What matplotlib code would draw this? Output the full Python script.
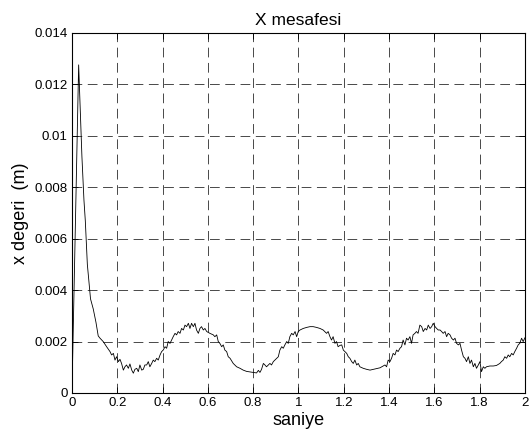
import matplotlib
matplotlib.use("Agg")
import matplotlib.pyplot as plt

plt.rcParams['font.family'] = ['Liberation Sans', 'DejaVu Sans']

# time (s) and x distance (m)
t_rise = [0.0, 0.0296, 0.044, 0.053, 0.059, 0.068, 0.082, 0.094, 0.106, 0.116]
x_rise = [0.0, 0.01276, 0.0092, 0.0075, 0.0067, 0.0050, 0.00366, 0.00327, 0.00275, 0.00222]

t_seg1 = [0.124, 0.138, 0.153, 0.168, 0.175, 0.183, 0.190, 0.197, 0.205, 0.212, 0.219, 0.227,
          0.234, 0.241, 0.249, 0.256, 0.264, 0.271, 0.278, 0.286, 0.293, 0.300, 0.308, 0.315,
          0.322, 0.330, 0.337, 0.344, 0.352, 0.359, 0.366, 0.374, 0.381, 0.389, 0.396, 0.403,
          0.411, 0.418, 0.425, 0.433, 0.440, 0.447, 0.455, 0.462, 0.469]
x_seg1 = [0.00213, 0.00200, 0.00180, 0.00161, 0.00148, 0.00154, 0.00128, 0.00141, 0.00122,
          0.00131, 0.00115, 0.00089, 0.00102, 0.00109, 0.00096, 0.00113, 0.00089, 0.00077,
          0.00092, 0.00096, 0.00083, 0.00109, 0.00089, 0.00092, 0.00109, 0.00109, 0.00122,
          0.00102, 0.00115, 0.00128, 0.00122, 0.00135, 0.00128, 0.00148, 0.00161, 0.00167,
          0.00180, 0.00174, 0.00200, 0.00193, 0.00206, 0.00219, 0.00232, 0.00226, 0.00239]

t_seg2 = [0.477, 0.484, 0.492, 0.499, 0.506, 0.514, 0.521, 0.528, 0.536, 0.543, 0.550, 0.558,
          0.565, 0.572, 0.580, 0.587, 0.595, 0.609, 0.624, 0.631, 0.639, 0.646, 0.653, 0.661,
          0.668, 0.675, 0.683, 0.690, 0.698, 0.712, 0.727, 0.742, 0.756, 0.771, 0.786, 0.801,
          0.815, 0.823]
x_seg2 = [0.00232, 0.00251, 0.00245, 0.00264, 0.00258, 0.00271, 0.00251, 0.00271, 0.00258,
          0.00271, 0.00245, 0.00232, 0.00251, 0.00258, 0.00245, 0.00251, 0.00239, 0.00232,
          0.00226, 0.00219, 0.00226, 0.00200, 0.00193, 0.00180, 0.00187, 0.00167, 0.00161,
          0.00141, 0.00135, 0.00115, 0.00102, 0.00096, 0.00089, 0.00084, 0.00082, 0.00080,
          0.00078, 0.00088]

t_seg3 = [0.830, 0.837, 0.845, 0.852, 0.859, 0.867, 0.874, 0.881, 0.889, 0.896, 0.904, 0.911,
          0.918, 0.926, 0.933, 0.940, 0.948, 0.955, 0.962, 0.970, 0.977, 0.985, 0.992, 0.999,
          1.007, 1.021, 1.036, 1.051, 1.065, 1.080, 1.095, 1.109, 1.124, 1.131, 1.139, 1.146,
          1.153, 1.161, 1.168, 1.175]
x_seg3 = [0.00080, 0.00092, 0.00115, 0.00109, 0.00102, 0.00109, 0.00115, 0.00109, 0.00122,
          0.00128, 0.00135, 0.00141, 0.00167, 0.00180, 0.00174, 0.00187, 0.00200, 0.00193,
          0.00219, 0.00232, 0.00226, 0.00239, 0.00219, 0.00239, 0.00245, 0.00251, 0.00255,
          0.00258, 0.00258, 0.00255, 0.00251, 0.00245, 0.00232, 0.00239, 0.00219, 0.00206,
          0.00219, 0.00193, 0.00200, 0.00180]

t_seg4 = [1.183, 1.191, 1.198, 1.205, 1.213, 1.220, 1.227, 1.235, 1.242, 1.249, 1.257, 1.264,
          1.271, 1.286, 1.301, 1.316, 1.330, 1.345, 1.360, 1.374, 1.382, 1.389, 1.396, 1.404,
          1.411, 1.418, 1.426, 1.433, 1.440, 1.448, 1.455, 1.462, 1.470, 1.477, 1.484, 1.492,
          1.499, 1.506, 1.514, 1.521, 1.528]
x_seg4 = [0.00185, 0.00187, 0.00167, 0.00161, 0.00154, 0.00141, 0.00135, 0.00122, 0.00115,
          0.00128, 0.00109, 0.00115, 0.00102, 0.00096, 0.00092, 0.00089, 0.00092, 0.00095,
          0.00098, 0.00105, 0.00109, 0.00102, 0.00128, 0.00122, 0.00135, 0.00154, 0.00148,
          0.00167, 0.00161, 0.00174, 0.00180, 0.00206, 0.00187, 0.00213, 0.00206, 0.00219,
          0.00193, 0.00226, 0.00232, 0.00239, 0.00232]

t_seg5 = [1.536, 1.544, 1.551, 1.559, 1.566, 1.573, 1.581, 1.588, 1.595, 1.603, 1.610, 1.617,
          1.625, 1.632, 1.639, 1.647, 1.654, 1.661, 1.669, 1.676, 1.684, 1.691, 1.698, 1.706,
          1.713, 1.720, 1.728, 1.735, 1.742, 1.750, 1.757, 1.764, 1.772, 1.779, 1.786, 1.794,
          1.801, 1.808, 1.816, 1.823, 1.830, 1.845, 1.860, 1.874, 1.889, 1.896, 1.904, 1.911,
          1.919, 1.926, 1.933, 1.941, 1.948, 1.955, 1.963, 1.970, 1.977, 1.985, 1.992, 2.0]
x_seg5 = [0.00264, 0.00258, 0.00239, 0.00251, 0.00245, 0.00264, 0.00251, 0.00258, 0.00271,
          0.00258, 0.00251, 0.00245, 0.00245, 0.00239, 0.00232, 0.00239, 0.00219, 0.00232,
          0.00226, 0.00213, 0.00206, 0.00213, 0.00193, 0.00187, 0.00193, 0.00167, 0.00141,
          0.00135, 0.00122, 0.00141, 0.00115, 0.00128, 0.00102, 0.00115, 0.00096, 0.00109,
          0.00122, 0.00083, 0.00102, 0.00096, 0.00102, 0.00105, 0.00105, 0.00107, 0.00115,
          0.00122, 0.00128, 0.00141, 0.00135, 0.00148, 0.00141, 0.00154, 0.00148, 0.00161,
          0.00174, 0.00187, 0.00193, 0.00213, 0.00200, 0.00215]

x_ticks = [0, 0.2, 0.4, 0.6, 0.8, 1.0, 1.2, 1.4, 1.6, 1.8, 2.0]
x_tick_labels = ['0', '0.2', '0.4', '0.6', '0.8', '1', '1.2', '1.4', '1.6', '1.8', '2']
y_ticks = [0, 0.002, 0.004, 0.006, 0.008, 0.010, 0.012, 0.014]
y_tick_labels = ['0', '0.002', '0.004', '0.006', '0.008', '0.01', '0.012', '0.014']

t = t_rise + t_seg1 + t_seg2 + t_seg3 + t_seg4 + t_seg5
x = x_rise + x_seg1 + x_seg2 + x_seg3 + x_seg4 + x_seg5

fig = plt.figure(figsize=(5.29, 4.37), dpi=100)
ax = fig.add_axes([0.136, 0.1007, 0.8564, 0.8238])
ax.plot(t, x, color='black', linewidth=0.6)

ax.set_xlim(0, 2)
ax.set_ylim(0, 0.014)
ax.set_xticks(x_ticks)
ax.set_xticklabels(x_tick_labels)
ax.set_yticks(y_ticks)
ax.set_yticklabels(y_tick_labels)
ax.tick_params(direction='in', top=True, right=True, length=4, width=0.6,
               labelsize=9.5, pad=3)
ax.grid(True, color='black', linestyle=(0, (14, 8)), linewidth=0.5)
for s in ax.spines.values():
    s.set_linewidth(0.8)

ax.set_title('X mesafesi', fontsize=12.5, pad=6)
ax.set_xlabel('saniye', fontsize=13, labelpad=2)
ax.set_ylabel('x degeri  (m)', fontsize=13, labelpad=4)

fig.savefig('out.png', dpi=100)
